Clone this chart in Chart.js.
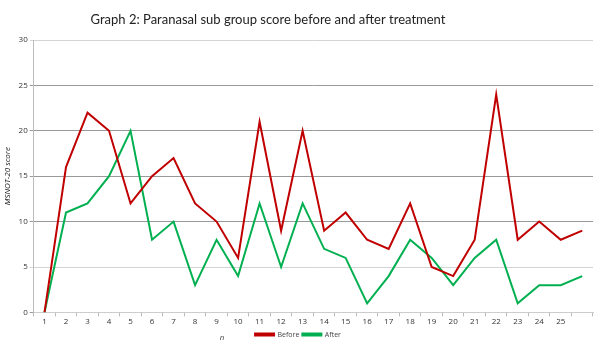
<!DOCTYPE html>
<html>
<head>
<meta charset="utf-8">
<script src="https://cdn.jsdelivr.net/npm/chart.js@4.4.0/dist/chart.umd.min.js"></script>
<style>
  html, body { margin: 0; padding: 0; background: #fff; }
  #wrap { width: 600px; height: 348px; position: relative; }
</style>
</head>
<body>
<div id="wrap"><canvas id="chart"></canvas></div>
<script>
// categories (26 points, only 25 labelled on the original axis)
const categories = ['1','2','3','4','5','6','7','8','9','10','11','12','13','14','15','16','17','18','19','20','21','22','23','24','25',''];
const beforeScores = [0, 16, 22, 20, 12, 15, 17, 12, 10, 6, 21, 9, 20, 9, 11, 8, 7, 12, 5, 4, 8, 24, 8, 10, 8, 9];
const afterScores = [0, 11, 12, 15, 20, 8, 10, 3, 8, 4, 12, 5, 12, 7, 6, 1, 4, 8, 6, 3, 6, 8, 1, 3, 3, 4];
const yTicks = [0, 5, 10, 15, 20, 25, 30];

const chartTitle = 'Graph 2: Paranasal sub group score before and after treatment';

// draws the title and the little "n" under the x axis where the original had them
const extraText = {
    id: 'extraText',
    afterDraw(chart) {
        const c = chart.ctx;
        c.save();
        c.fillStyle = '#222';
        c.textAlign = 'center';
        c.textBaseline = 'middle';
        c.font = '13px Lato';
        c.fillText(chartTitle, 268, 20);
        c.fillStyle = '#444';
        c.font = 'italic 8px "Open Sans"';
        c.fillText('n', 222, 338);
        c.restore();
    }
};

const data = {
    labels: categories,
    datasets: [{
        label: 'Before',
        data: beforeScores,
        borderColor: '#c00000',
        backgroundColor: '#c00000',
        borderWidth: 2,
        pointRadius: 0,
        tension: 0
    },
    {
        label: 'After',
        data: afterScores,
        borderColor: '#00b050',
        backgroundColor: '#00b050',
        borderWidth: 2,
        pointRadius: 0,
        tension: 0
    }]
};

const options = {
    responsive: true,
    maintainAspectRatio: false,
    animation: false,
    layout: {
        padding: { top: 40, left: 3, right: 7, bottom: 0 }
    },
    scales: {
        x: {
            offset: true,
            grid: {
                display: true,
                drawOnChartArea: false,
                offset: true,
                tickLength: 4,
                color: '#bbb'
            },
            border: { color: '#ccc' },
            ticks: {
                color: '#333',
                font: { size: 8, family: 'Open Sans' },
                maxRotation: 0,
                autoSkip: false,
                padding: 1
            }
        },
        y: {
            min: 0,
            max: 30,
            afterBuildTicks(axis) {
                axis.ticks = yTicks.map(v => ({ value: v }));
            },
            grid: {
                color: (ctx) => (ctx.tick && (ctx.tick.value === 5 || ctx.tick.value === 30)) ? '#d4d4d4' : '#999',
                tickLength: 4
            },
            border: { color: '#bbb' },
            ticks: {
                color: '#333',
                font: { size: 8, family: 'Open Sans' },
                padding: 2
            },
            title: {
                display: true,
                text: 'MSNOT-20 score',
                color: '#222',
                font: { size: 8, style: 'italic', family: 'Open Sans' },
                padding: { top: 0, bottom: 4 }
            }
        }
    },
    plugins: {
        legend: {
            display: true,
            position: 'bottom',
            labels: {
                boxWidth: 19,
                boxHeight: 2,
                color: '#444',
                font: { size: 7, family: 'Open Sans' },
                padding: 3
            }
        },
        tooltip: { enabled: false }
    }
};

new Chart(document.getElementById('chart'), {
    type: 'line',
    data: data,
    options: options,
    plugins: [extraText]
});
</script>
</body>
</html>
